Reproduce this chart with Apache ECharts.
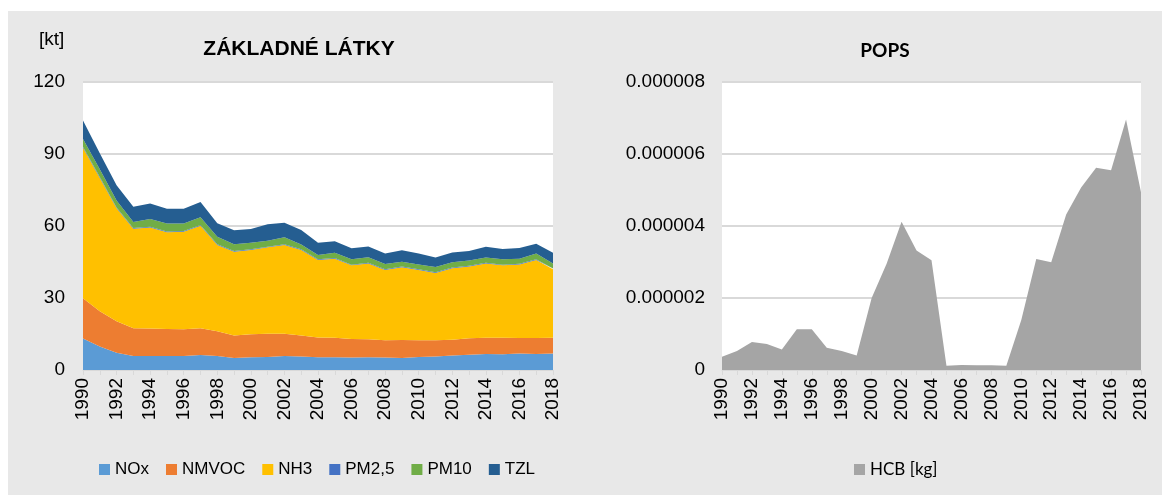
<!DOCTYPE html>
<html>
<head>
<meta charset="utf-8">
<script src="https://cdn.jsdelivr.net/npm/echarts@6/dist/echarts.min.js"></script>
<style>
  html, body { margin: 0; padding: 0; background: #ffffff; }
  #chart { width: 1166px; height: 495px; }
</style>
</head>
<body>
<div id="chart"></div>
<script>
// Years shown on both category axes
const years = ['1990','1991','1992','1993','1994','1995','1996','1997','1998','1999',
  '2000','2001','2002','2003','2004','2005','2006','2007','2008','2009',
  '2010','2011','2012','2013','2014','2015','2016','2017','2018'];

// Basic pollutants, emissions in kt (stacked)
const nox   = [13.1, 9.8, 7.2, 5.8, 5.8, 5.8, 5.8, 6.3, 5.8, 5.0, 5.3, 5.4, 5.8, 5.6, 5.3, 5.3, 5.2, 5.3, 5.2, 5.0, 5.4, 5.6, 6.0, 6.4, 6.7, 6.6, 6.9, 6.7, 6.9];
const nmvoc = [16.8, 14.7, 13.1, 11.6, 11.5, 11.3, 11.2, 11.1, 10.3, 9.4, 9.6, 9.7, 9.3, 8.8, 8.2, 8.1, 7.7, 7.5, 7.2, 7.5, 7.0, 6.8, 6.6, 6.8, 6.7, 6.8, 6.4, 6.6, 6.5];
const nh3   = [62.7, 55.5, 47.1, 41.5, 42.1, 40.3, 40.6, 42.7, 36.0, 34.9, 35.1, 36.0, 37.0, 35.6, 32.3, 33.0, 30.7, 31.6, 29.3, 30.3, 29.3, 28.0, 29.8, 29.9, 31.0, 30.2, 30.7, 32.5, 28.6];
const pm25  = [0.4, 0.4, 0.3, 0.3, 0.3, 0.3, 0.3, 0.3, 0.3, 0.3, 0.3, 0.3, 0.3, 0.3, 0.3, 0.3, 0.3, 0.3, 0.3, 0.3, 0.3, 0.3, 0.3, 0.3, 0.3, 0.3, 0.3, 0.3, 0.3];
const pm10  = [3.2, 3.2, 2.9, 2.5, 3.2, 3.3, 3.1, 3.2, 3.1, 2.8, 2.7, 2.5, 2.9, 2.0, 1.8, 2.2, 2.2, 2.3, 2.2, 2.0, 2.0, 2.2, 2.2, 2.2, 2.2, 2.2, 2.1, 2.4, 2.1];
const tzl   = [7.8, 6.7, 6.4, 6.3, 6.5, 6.2, 6.2, 6.4, 5.6, 5.8, 5.7, 6.8, 6.1, 6.0, 5.1, 4.7, 4.6, 4.5, 4.3, 4.8, 4.5, 4.0, 4.1, 4.0, 4.5, 4.3, 4.4, 4.1, 4.5];

// Persistent organic pollutants, HCB in kg
const hcb = [0.00000037, 0.00000053, 0.00000078, 0.00000072, 0.00000057, 0.00000113, 0.00000113, 0.00000062, 0.00000053, 0.00000040,
  0.0000020, 0.00000295, 0.00000412, 0.00000332, 0.00000305, 0.00000012, 0.00000014, 0.00000013, 0.00000013, 0.00000012,
  0.00000139, 0.00000308, 0.00000299, 0.00000432, 0.00000507, 0.00000562, 0.00000555, 0.00000696, 0.00000494];

// Axis tick labels
const leftTicks = ['0', '30', '60', '90', '120'];
const rightTicks = ['0', '0.000002', '0.000004', '0.000006', '0.000008'];

const NARROW = "'Liberation Sans Narrow', 'Arial Narrow', 'Liberation Sans', sans-serif";
const HUMAN = "Lato, 'Open Sans', sans-serif";

const pollutantSeries = [
  { name: 'NOx',   data: nox,   color: '#5B9BD5' },
  { name: 'NMVOC', data: nmvoc, color: '#ED7D31' },
  { name: 'NH3',   data: nh3,   color: '#FFC000' },
  { name: 'PM2,5', data: pm25,  color: '#4472C4' },
  { name: 'PM10',  data: pm10,  color: '#70AD47' },
  { name: 'TZL',   data: tzl,   color: '#255E91' }
];

function categoryAxis(gridIndex) {
  return {
    type: 'category', gridIndex, data: years, boundaryGap: false,
    axisLine: { show: true, lineStyle: { color: '#D9D9D9', width: 1 } },
    axisTick: { show: true, interval: 0, length: 5, lineStyle: { color: '#D9D9D9' } },
    axisLabel: { interval: 1, rotate: 90, color: '#000', fontFamily: NARROW, fontSize: 19, margin: 8 },
    splitLine: { show: false }
  };
}

const chart = echarts.init(document.getElementById('chart'), null, { renderer: 'canvas' });

chart.setOption({
  backgroundColor: '#ffffff',
  animation: false,
  graphic: [
    { type: 'rect', z: -10, silent: true, shape: { x: 8, y: 11, width: 1154, height: 484 }, style: { fill: '#E8E8E8' } },
    { type: 'text', left: 39, top: 30, style: { text: '[kt]', fill: '#000', font: "19px " + NARROW } }
  ],
  title: [
    { text: 'ZÁKLADNÉ LÁTKY', left: 294, top: 34, textAlign: 'center',
      textStyle: { fontFamily: NARROW, fontWeight: 'bold', fontSize: 21, color: '#000' } },
    { text: 'POPS', left: 880, top: 36, textAlign: 'center',
      textStyle: { fontFamily: HUMAN, fontWeight: 'bold', fontSize: 19, color: '#000' } }
  ],
  legend: [
    { data: pollutantSeries.map(s => s.name), left: 94, top: 456, itemWidth: 11, itemHeight: 11, itemGap: 17,
      icon: 'rect', textStyle: { fontFamily: NARROW, fontSize: 17, color: '#000' } },
    { data: ['HCB [kg]'], left: 849, top: 456, itemWidth: 11, itemHeight: 11, icon: 'rect',
      textStyle: { fontFamily: HUMAN, fontSize: 17, color: '#000' } }
  ],
  grid: [
    { left: 83, right: 613, top: 82, bottom: 125, show: true, backgroundColor: '#ffffff', borderWidth: 0 },
    { left: 722, right: 25, top: 82, bottom: 125, show: true, backgroundColor: '#ffffff', borderWidth: 0 }
  ],
  xAxis: [categoryAxis(0), categoryAxis(1)],
  yAxis: [
    { type: 'value', gridIndex: 0, min: 0, max: 120, interval: 30,
      axisLine: { show: false }, axisTick: { show: false },
      splitLine: { lineStyle: { color: '#D9D9D9', width: 2 } },
      axisLabel: { color: '#000', fontFamily: NARROW, fontSize: 19, margin: 18,
        formatter: (v) => leftTicks[Math.round(v / 30)] } },
    { type: 'value', gridIndex: 1, min: 0, max: 0.000008, interval: 0.000002,
      axisLine: { show: false }, axisTick: { show: false },
      splitLine: { lineStyle: { color: '#D9D9D9', width: 2 } },
      axisLabel: { color: '#000', fontFamily: NARROW, fontSize: 19, margin: 17,
        formatter: (v) => rightTicks[Math.round(v / 0.000002)] } }
  ],
  series: pollutantSeries.map(s => ({
    name: s.name, type: 'line', xAxisIndex: 0, yAxisIndex: 0, stack: 'latky',
    data: s.data, showSymbol: false, symbol: 'none', color: s.color,
    lineStyle: { width: 0 }, areaStyle: { color: s.color, opacity: 1 }
  })).concat([{
    name: 'HCB [kg]', type: 'line', xAxisIndex: 1, yAxisIndex: 1,
    data: hcb, showSymbol: false, symbol: 'none', color: '#A5A5A5',
    lineStyle: { width: 0 }, areaStyle: { color: '#A5A5A5', opacity: 1 }
  }])
});
</script>
</body>
</html>
